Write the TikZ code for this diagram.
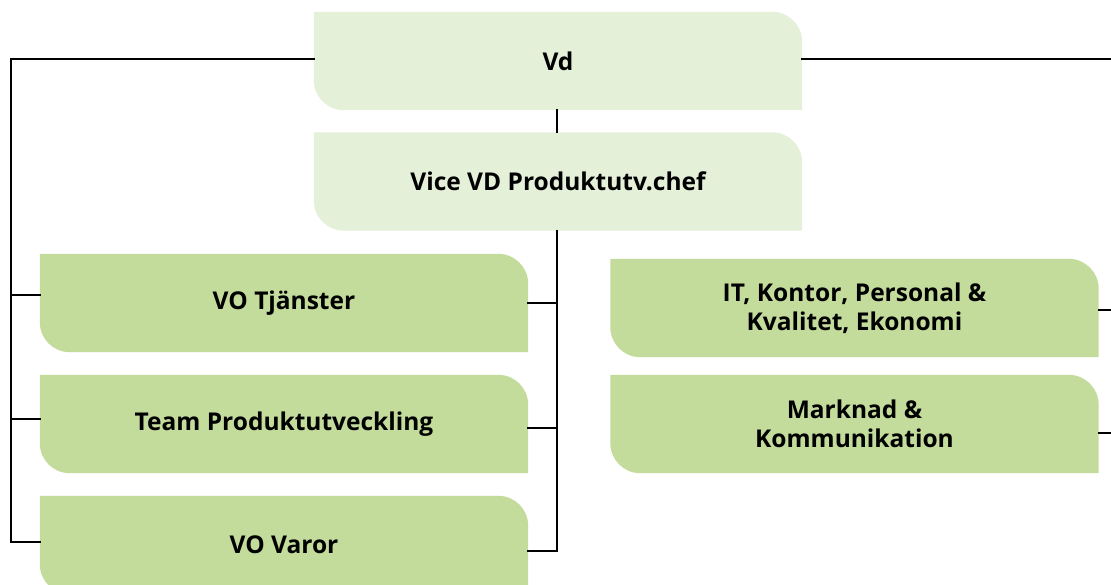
\documentclass[tikz,border=0pt]{standalone}
\usepackage{fontspec}
\setmainfont{Open Sans}
\usetikzlibrary{backgrounds}
\definecolor{headfill}{HTML}{E5F0D8}
\definecolor{unitfill}{HTML}{C3DB9B}
\tikzset{
  orgunit/.style={rectangle, inner sep=0pt, minimum width=488pt, minimum height=98pt,
    align=center, font=\fontsize{24.5}{29}\selectfont\bfseries},
  link/.style={draw=black, line width=2pt, line cap=rect},
}
% leaf shape: rounded top-right and bottom-left corners
\newcommand{\leafshape}[2]{%
  \fill[#2] (#1.north west) -- ([xshift=-30pt]#1.north east)
    arc[start angle=90, end angle=0, radius=30pt] -- (#1.south east)
    -- ([xshift=30pt]#1.south west)
    arc[start angle=270, end angle=180, radius=30pt] -- cycle;}
\begin{document}
\begin{tikzpicture}[x=1pt, y=-1pt]
\useasboundingbox (0,0) rectangle (1111,585);
% units
\node[orgunit] (vd)   at (558,61)    {Vd};
\node[orgunit] (vice) at (558,181.5) {Vice VD Produktutv.chef};
\node[orgunit] (tj)   at (284,303)   {VO Tjänster};
\node[orgunit] (team) at (284,424)   {Team Produktutveckling};
\node[orgunit] (var)  at (284,545)   {VO Varor};
\node[orgunit] (it)   at (854.5,308) {IT, Kontor, Personal \&\\Kvalitet, Ekonomi};
\node[orgunit] (mk)   at (854.5,424) {Marknad \&\\Kommunikation};
\begin{scope}[on background layer]
  \leafshape{vd}{headfill}
  \leafshape{vice}{headfill}
  \foreach \n in {tj,team,var,it,mk} {\leafshape{\n}{unitfill}}
\end{scope}
% free ends at the right edge
\coordinate (edgeA) at (1111,59);
\coordinate (edgeB) at (1111,310);
\coordinate (edgeC) at (1111,433);
% left spine
\draw[link] ([yshift=2pt]vd.west) -| ([xshift=-29pt,yshift=3pt]var.west) -- ([yshift=3pt]var.west);
\draw[link] ([yshift=8pt]tj.west) -- ([xshift=-29pt,yshift=8pt]tj.west);
\draw[link] ([yshift=5.5pt]team.west) -- ([xshift=-29pt,yshift=5.5pt]team.west);
% right of the head
\draw[link] ([yshift=2pt]vd.east) -- (edgeA);
\draw[link] ([yshift=-2pt]it.east) -- (edgeB);
\draw[link] ([yshift=-9pt]mk.east) -- (edgeC);
% centre spine
\draw[link] ([xshift=-1pt]vd.south) -- ([xshift=-1pt]vice.north);
\draw[link] ([xshift=-1pt]vice.south) |- ([yshift=-6pt]var.east);
\draw[link] ([yshift=0pt]tj.east) -- ([xshift=29pt]tj.east);
\draw[link] ([yshift=-4pt]team.east) -- ([xshift=29pt,yshift=-4pt]team.east);
\end{tikzpicture}
\end{document}
